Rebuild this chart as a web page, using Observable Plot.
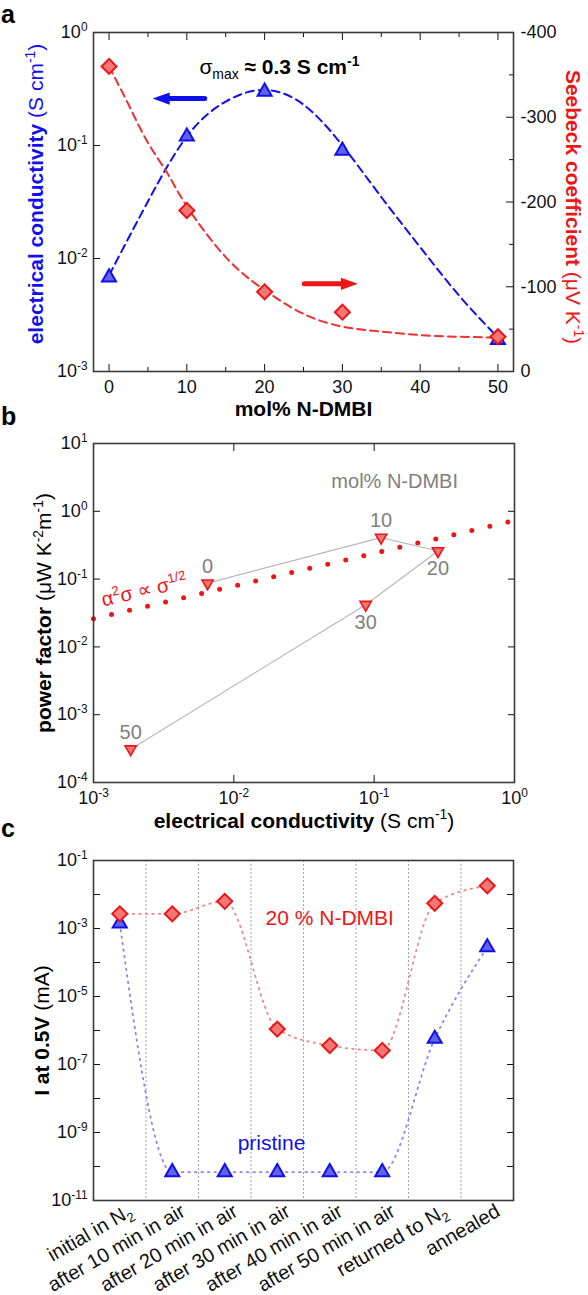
<!DOCTYPE html>
<html><head><meta charset="utf-8">
<script src="https://cdn.jsdelivr.net/npm/d3@7"></script>
<script src="https://cdn.jsdelivr.net/npm/@observablehq/plot@0.6"></script>
<style>
body{margin:0;background:#fff;}
#wrap{position:relative;width:588px;height:1295px;overflow:hidden;font-family:"Liberation Sans",Arial,sans-serif;background:#fff;}
.panel{position:absolute;left:0;}
.letter{position:absolute;left:1px;font-weight:bold;font-size:25px;line-height:normal;color:#000;}
</style></head><body>
<div id="wrap"></div>
<script>
// ---------- Panel a data ----------
const molPct = [0, 10, 20, 30, 50];
const conductivity = [0.0068, 0.12, 0.30, 0.09, 0.0019];   // S/cm
const seebeck = [-360, -190, -94, -70, -41];                // µV/K
const condFitX = [0, 5, 10, 15, 20, 25, 30, 35, 40, 45, 50];
const condFitY = [0.0071, 0.032, 0.12, 0.245, 0.31, 0.23, 0.1, 0.035, 0.0126, 0.0047, 0.002];
const seebFitX = [0, 2.5, 5, 7.5, 10, 15, 20, 25, 30, 35, 40, 45, 50];
const seebFitY = [-360, -315, -270, -234, -195, -135, -96, -68, -53, -47, -43, -41, -40];
const seebTicks = [0, -100, -200, -300, -400];
const seebMinor = [-50, -150, -250, -350];
const annotA = [{x: 21.9, y: 0.49, t: "σ_{max} **≈ 0.3 S cm^{-1}**"}];
const blueArrowX = [12.3, 7.2], blueArrowY = 0.26, blueHeadX = 6.7;
const redArrowX = [25.1, 30.5], redArrowS = -103.5, redHeadX = 30.9;

// ---------- Panel b data ----------
const pfSigma = [0.0065, 0.112, 0.285, 0.087, 0.00184];
const pfValue = [0.087, 0.41, 0.26, 0.042, 0.00031];
const pfLabels = ["0", "10", "20", "30", "50"];
const pfLabelAbove = [true, true, false, false, true];
const trendSigma = [0.001, 1];
const trendPF = [0.026, 0.73];
const annotB = [{x: 0.14, y: 2.75, t: "mol% N-DMBI"}];
const annotTrend = [{x: 0.0023, y: 0.068, t: "α^{2}σ ∝ σ^{1/2}"}];

// ---------- Panel c data ----------
const steps = ["initial in N_{2}", "after 10 min in air", "after 20 min in air", "after 30 min in air",
               "after 40 min in air", "after 50 min in air", "returned to N_{2}", "annealed"];
const currentDoped = [2.7e-3, 2.7e-3, 6.3e-3, 1.1e-6, 3.6e-7, 2.6e-7, 5.5e-3, 1.8e-2];
const currentPristine = [1.4e-3, 6.8e-11, 6.8e-11, 6.8e-11, 6.8e-11, 6.8e-11, 5.7e-7, 2.8e-4];
const annotDoped = [{x: 4, y: 2.0e-3, t: "20 % N-DMBI"}];
const annotPristine = [{x: 2.89, y: 4.8e-10, t: "pristine"}];

// ---------- styles ----------
const FONT = "'Liberation Sans', Arial, sans-serif";
const BLUE = "#1010ee", BLUEFILL = "#6262e6";
const RED = "#ee1515", REDFILL = "#f27878";
const FRAME = "#3a3a3a";
const baseStyle = {fontFamily: FONT, fontSize: "18px", color: "#111", background: "transparent", overflow: "visible"};
const logFmt = d => `10^{${Math.round(Math.log10(d))}}`;
const blank = () => "";
const toLeft = s => Math.pow(10, -3 - 3 * s / 400);

const arrowHead = {
  draw(ctx, size) {
    const r = Math.sqrt(size / Math.PI);
    ctx.moveTo(-r, 0); ctx.lineTo(r, -0.72 * r); ctx.lineTo(r, 0.72 * r); ctx.closePath();
  }
};
const tickShape = {draw(ctx, l) { ctx.moveTo(0, 0); ctx.lineTo(0, -l); }};

// ---------- Panel a ----------
const condPts = molPct.map((m, i) => ({m, v: conductivity[i]}));
const seebPts = molPct.map((m, i) => ({m, s: seebeck[i]}));
const condFit = condFitX.map((m, i) => ({m, v: condFitY[i]}));
const seebFit = seebFitX.map((m, i) => ({m, s: seebFitY[i]}));

const pa = Plot.plot({
  width: 588, height: 440, marginTop: 32, marginBottom: 69, marginLeft: 93, marginRight: 75,
  x: {type: "linear", domain: [-2, 52]},
  y: {type: "log", domain: [1e-3, 1]},
  style: baseStyle,
  marks: [
    Plot.axisX({anchor: "bottom", ticks: [0, 10, 20, 30, 40, 50], tickSize: -7, tickPadding: 16, tickFormat: d => String(d), label: null}),
    Plot.axisX({anchor: "bottom", ticks: [5, 15, 25, 35, 45], tickSize: -4, tickFormat: blank, label: null}),
    Plot.axisX({anchor: "top", ticks: [0, 10, 20, 30, 40, 50], tickSize: -7, tickFormat: blank, label: null}),
    Plot.axisX({anchor: "top", ticks: [5, 15, 25, 35, 45], tickSize: -4, tickFormat: blank, label: null}),
    Plot.axisY({anchor: "left", ticks: [1e-3, 1e-2, 1e-1, 1], tickSize: -7, tickPadding: 13, tickFormat: logFmt, label: null}),
    // right (Seebeck) axis
    Plot.vector(seebTicks, {y: s => toLeft(s), frameAnchor: "right", length: 7, rotate: -90, anchor: "start", shape: tickShape, stroke: "#111", strokeWidth: 1}),
    Plot.vector(seebMinor, {y: s => toLeft(s), frameAnchor: "right", length: 4, rotate: -90, anchor: "start", shape: tickShape, stroke: "#111", strokeWidth: 1}),
    Plot.text(seebTicks, {y: s => toLeft(s), text: s => String(s), frameAnchor: "right", textAnchor: "start", dx: 7, fontSize: 18, fill: "#111"}),
    Plot.line(condFit, {x: "m", y: "v", curve: "natural", stroke: BLUE, strokeWidth: 2, strokeDasharray: "8,5"}),
    Plot.line(seebFit, {x: "m", y: d => toLeft(d.s), curve: "natural", stroke: "#ee3030", strokeWidth: 2, strokeDasharray: "8,5"}),
    Plot.dot(condPts, {x: "m", y: "v", symbol: "triangle", r: 5.2, fill: BLUEFILL, stroke: BLUE, strokeWidth: 2}),
    Plot.dot(seebPts, {x: "m", y: d => toLeft(d.s), symbol: "square", rotate: 45, r: 6, fill: REDFILL, stroke: RED, strokeWidth: 2}),
    Plot.line(blueArrowX.map(x => ({x, y: blueArrowY})), {x: "x", y: "y", stroke: BLUE, strokeWidth: 5}),
    Plot.dot([{x: blueHeadX, y: blueArrowY}], {x: "x", y: "y", symbol: arrowHead, r: 8.5, fill: BLUE, stroke: "none"}),
    Plot.line(redArrowX.map(x => ({x, y: toLeft(redArrowS)})), {x: "x", y: "y", stroke: RED, strokeWidth: 5}),
    Plot.dot([{x: redHeadX, y: toLeft(redArrowS)}], {x: "x", y: "y", symbol: arrowHead, rotate: 180, r: 8.5, fill: RED, stroke: "none"}),
    Plot.text(annotA, {x: "x", y: "y", text: "t", fontSize: 21, fill: "#000"}),
    Plot.text(["**electrical conductivity** (S cm^{-1})"], {text: d => d, frameAnchor: "left", textAnchor: "middle", dx: -57, dy: -8, rotate: -90, fontSize: 21, fill: BLUE}),
    Plot.text(["**Seebeck coefficient** (μV K^{-1})"], {text: d => d, frameAnchor: "right", textAnchor: "middle", dx: 59, dy: 5, rotate: 90, fontSize: 21, fill: RED}),
    Plot.text(["mol% N-DMBI"], {text: d => d, frameAnchor: "bottom", textAnchor: "middle", dy: 44, fontSize: 21, fontWeight: "bold", fill: "#000"}),
    Plot.frame({stroke: FRAME, strokeWidth: 1.6})
  ]
});

// ---------- Panel b ----------
const pfPts = pfSigma.map((s, i) => ({s, p: pfValue[i], label: pfLabels[i], above: pfLabelAbove[i]}));
const trend = trendSigma.map((s, i) => ({s, p: trendPF[i]}));
const decB = [1e-3, 1e-2, 1e-1, 1];
const decBy = [1e-4, 1e-3, 1e-2, 1e-1, 1, 10];
const pb = Plot.plot({
  width: 588, height: 420, marginTop: 13, marginBottom: 68, marginLeft: 93, marginRight: 74,
  x: {type: "log", domain: [1e-3, 1]},
  y: {type: "log", domain: [1e-4, 10]},
  style: baseStyle,
  marks: [
    Plot.axisX({anchor: "bottom", ticks: decB, tickSize: -7, tickPadding: 16, tickFormat: logFmt, label: null}),
    Plot.axisX({anchor: "top", ticks: decB, tickSize: -7, tickFormat: blank, label: null}),
    Plot.axisY({anchor: "left", ticks: decBy, tickSize: -7, tickPadding: 13, tickFormat: logFmt, label: null}),
    Plot.axisY({anchor: "right", ticks: decBy, tickSize: -7, tickFormat: blank, label: null}),
    Plot.line(trend, {x: "s", y: "p", stroke: RED, strokeWidth: 5, strokeDasharray: "0 18.5", strokeLinecap: "round"}),
    Plot.line(pfPts, {x: "s", y: "p", stroke: "#b8b8b8", strokeWidth: 1.2}),
    Plot.dot(pfPts, {x: "s", y: "p", symbol: "triangle", rotate: 180, r: 4.2, fill: REDFILL, stroke: RED, strokeWidth: 1.6}),
    Plot.text(pfPts, {filter: d => d.above, x: "s", y: "p", text: "label", dy: -17, fontSize: 20, fill: "#808080"}),
    Plot.text(pfPts, {filter: d => !d.above, x: "s", y: "p", text: "label", dy: 18, fontSize: 20, fill: "#808080"}),
    Plot.text(annotB, {x: "x", y: "y", text: "t", fontSize: 20, fill: "#808080"}),
    Plot.text(annotTrend, {x: "x", y: "y", text: "t", fontSize: 20, rotate: -13, fill: RED}),
    Plot.text(["**power factor** (μW K^{-2}m^{-1})"], {text: d => d, frameAnchor: "left", textAnchor: "middle", dx: -49, rotate: -90, fontSize: 21, fill: "#000"}),
    Plot.text(["**electrical conductivity** (S cm^{-1})"], {text: d => d, frameAnchor: "bottom", textAnchor: "middle", dy: 45, fontSize: 21, fill: "#000"}),
    Plot.frame({stroke: FRAME, strokeWidth: 1.6})
  ]
});

// ---------- Panel c ----------
const dopedPts = currentDoped.map((v, i) => ({i, v}));
const pristPts = currentPristine.map((v, i) => ({i, v}));
const decC = d3.range(-11, 0).map(e => Math.pow(10, e));
const pc = Plot.plot({
  width: 588, height: 450, marginTop: 15, marginBottom: 95, marginLeft: 93, marginRight: 75,
  x: {type: "linear", domain: [-0.5, steps.length - 0.5]},
  y: {type: "log", domain: [1e-11, 1e-1]},
  style: baseStyle,
  marks: [
    Plot.ruleX(d3.range(0.5, steps.length - 1, 1), {stroke: "#9a9a9a", strokeWidth: 0.9, strokeDasharray: "2,2"}),
    Plot.axisY({anchor: "left", ticks: decC, tickSize: -7, tickPadding: 13,
      tickFormat: d => (Math.round(Math.log10(d)) % 2 !== 0 ? logFmt(d) : ""), label: null}),
    Plot.axisY({anchor: "right", ticks: decC, tickSize: -7, tickFormat: blank, label: null}),
    Plot.axisX({anchor: "bottom", ticks: d3.range(steps.length), tickSize: 0, tickPadding: 9, tickRotate: -30,
      dx: 11, tickFormat: i => steps[i], label: null, fontSize: 20}),
    Plot.line(dopedPts, {x: "i", y: "v", curve: "monotone-x", stroke: "#f08585", strokeWidth: 1.8, strokeDasharray: "1.5,5"}),
    Plot.line(pristPts, {x: "i", y: "v", curve: "monotone-x", stroke: "#8585f0", strokeWidth: 1.8, strokeDasharray: "1.5,5"}),
    Plot.dot(pristPts, {x: "i", y: "v", symbol: "triangle", r: 5.2, fill: BLUEFILL, stroke: BLUE, strokeWidth: 2}),
    Plot.dot(dopedPts, {x: "i", y: "v", symbol: "square", rotate: 45, r: 6, fill: REDFILL, stroke: RED, strokeWidth: 2}),
    Plot.text(annotDoped, {x: "x", y: "y", text: "t", fontSize: 21, fill: RED}),
    Plot.text(annotPristine, {x: "x", y: "y", text: "t", fontSize: 21, fill: BLUE}),
    Plot.text(["**I at 0.5V** (mA)"], {text: d => d, frameAnchor: "left", textAnchor: "middle", dx: -51, rotate: -90, fontSize: 21, fill: "#000"}),
    Plot.frame({stroke: FRAME, strokeWidth: 1.6})
  ]
});

// ---------- rich text (bold / sub / sup) ----------
function parseRich(s) {
  const segs = []; let bold = false, i = 0, buf = "";
  const push = (text, script) => { if (text) segs.push({text, bold, script}); };
  while (i < s.length) {
    if (s.startsWith("**", i)) { push(buf, null); buf = ""; bold = !bold; i += 2; continue; }
    if ((s[i] === "^" || s[i] === "_") && s[i + 1] === "{") {
      push(buf, null); buf = "";
      const end = s.indexOf("}", i + 2);
      push(s.slice(i + 2, end), s[i] === "^" ? "sup" : "sub");
      i = end + 1; continue;
    }
    buf += s[i]; i++;
  }
  push(buf, null);
  return segs;
}
function richify(root) {
  root.querySelectorAll("text").forEach(t => {
    const s = t.textContent;
    if (!/(\*\*|\^\{|_\{)/.test(s)) return;
    const fs = parseFloat(getComputedStyle(t).fontSize) || 18;
    const segs = parseRich(s);
    while (t.firstChild) t.removeChild(t.firstChild);
    let shift = 0;
    for (const seg of segs) {
      const ts = document.createElementNS("http://www.w3.org/2000/svg", "tspan");
      const target = seg.script === "sup" ? -0.4 * fs : seg.script === "sub" ? 0.25 * fs : 0;
      const dy = target - shift; shift = target;
      if (dy) ts.setAttribute("dy", dy.toFixed(2));
      if (seg.script) ts.setAttribute("font-size", (0.66 * fs).toFixed(1));
      if (seg.bold) ts.setAttribute("font-weight", "bold");
      ts.textContent = seg.text;
      t.appendChild(ts);
    }
  });
}

const wrap = document.getElementById("wrap");
[[pa, 0], [pb, 430], [pc, 845]].forEach(([svg, top]) => {
  svg.classList.add("panel");
  svg.style.top = top + "px";
  wrap.appendChild(svg);
  richify(svg);
});
[["a", 0], ["b", 402], ["c", 814]].forEach(([l, top]) => {
  const d = document.createElement("div");
  d.className = "letter"; d.textContent = l; d.style.top = top + "px";
  wrap.appendChild(d);
});
</script>
</body></html>
